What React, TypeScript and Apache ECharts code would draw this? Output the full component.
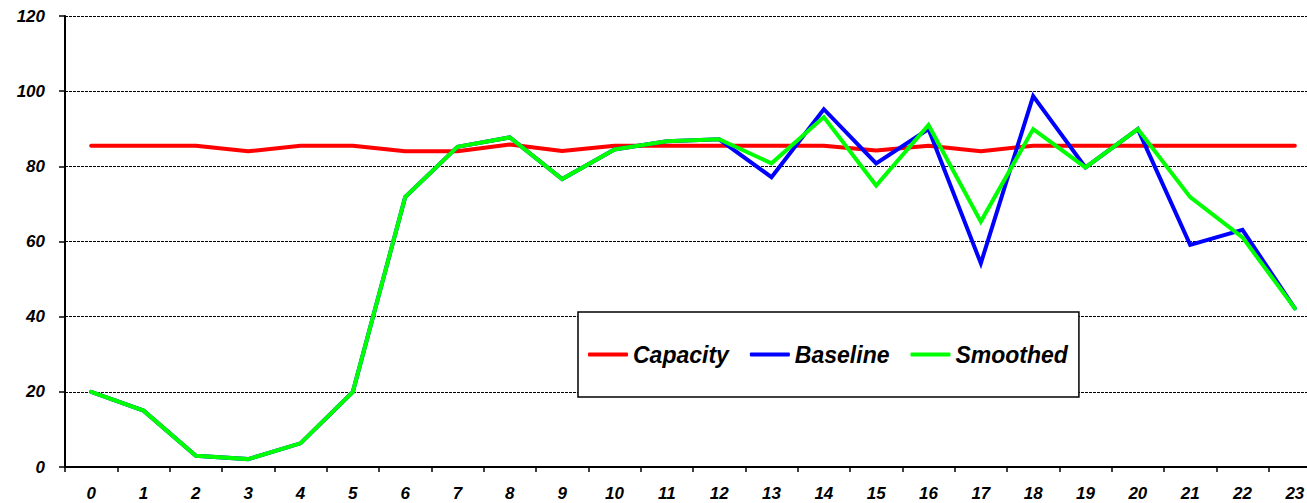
import React, { useEffect, useRef } from "react";
import * as echarts from "echarts";

const hours = ["0","1","2","3","4","5","6","7","8","9","10","11","12","13","14","15","16","17","18","19","20","21","22","23"];
const capacity = [85.5,85.5,85.5,84,85.5,85.5,84,84,85.8,84.1,85.5,85.5,85.5,85.5,85.5,84.2,85.5,84,85.5,85.5,85.5,85.5,85.5,85.5];
const baseline = [20,15,3,2.1,6.3,20,71.8,85.2,87.7,76.6,84.5,86.7,87.2,77.1,95.2,80.8,89.9,54.2,98.7,79.7,89.9,59.1,63.1,42.2];
const smoothed = [20,15,3,2.1,6.3,20,71.8,85.2,87.7,76.6,84.5,86.7,87.2,80.8,93.1,74.9,91,65.3,89.9,79.7,89.9,71.8,61.1,42.2];
const yTicks = [0, 20, 40, 60, 80, 100, 120];

const labelFont = {
  fontFamily: "'Liberation Sans', Arial, sans-serif",
  fontWeight: "bold" as const,
  fontStyle: "italic" as const,
  color: "#000",
};

export default function App() {
  const ref = useRef<HTMLDivElement>(null);
  useEffect(() => {
    if (!ref.current) return;
    const chart = echarts.init(ref.current, null, { renderer: "svg" });
    chart.setOption({
      animation: false,
      backgroundColor: "#fff",
      grid: { left: 65, top: 16, width: 1256, height: 451, containLabel: false },
      legend: {
        left: 578,
        top: 312,
        orient: "horizontal",
        icon: "roundRect",
        itemWidth: 40,
        itemHeight: 4,
        itemGap: 21,
        padding: [31, 11, 31, 10],
        backgroundColor: "#fff",
        borderColor: "#000",
        borderWidth: 1.5,
        textStyle: { ...labelFont, fontSize: 23 },
        data: ["Capacity", "Baseline", "Smoothed"],
      },
      xAxis: {
        type: "category",
        data: hours,
        boundaryGap: true,
        axisLine: { show: true, lineStyle: { color: "#000", width: 2 } },
        axisTick: { show: true, length: 5, alignWithLabel: false, lineStyle: { color: "#000", width: 1.5 } },
        axisLabel: { ...labelFont, fontSize: 17, margin: 18, interval: 0 },
        splitLine: { show: false },
      },
      yAxis: {
        type: "value",
        min: yTicks[0],
        max: yTicks[yTicks.length - 1],
        interval: 20,
        axisLine: { show: true, lineStyle: { color: "#000", width: 2 } },
        axisTick: { show: true, length: 6, lineStyle: { color: "#000", width: 1.5 } },
        axisLabel: { ...labelFont, fontSize: 17, margin: 20 },
        splitLine: { show: true, lineStyle: { color: "#000", width: 1, type: [3, 1] } },
      },
      series: [
        {
          name: "Capacity",
          type: "line",
          data: capacity,
          symbol: "none",
          color: "#ff0000",
          lineStyle: { color: "#ff0000", width: 4, cap: "round", join: "round" },
        },
        {
          name: "Baseline",
          type: "line",
          data: baseline,
          symbol: "none",
          color: "#0000ff",
          lineStyle: { color: "#0000ff", width: 4, cap: "round", join: "miter" },
        },
        {
          name: "Smoothed",
          type: "line",
          data: smoothed,
          symbol: "none",
          color: "#00ff00",
          lineStyle: { color: "#00ff00", width: 4, cap: "round", join: "miter" },
        },
      ],
    });
    return () => chart.dispose();
  }, []);
  return (
    <div style={{ position: "absolute", left: 0, top: 0, width: 1307, height: 503, overflow: "hidden" }}>
      <div ref={ref} style={{ width: 1340, height: 503 }} />
    </div>
  );
}
